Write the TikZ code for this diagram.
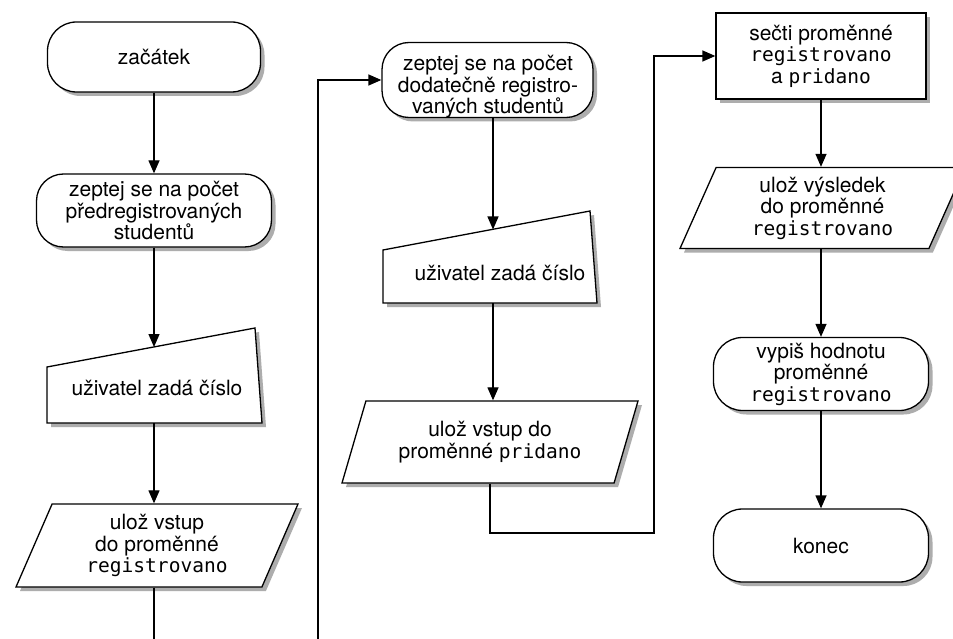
\documentclass[tikz,border=0pt]{standalone}
\usepackage{fontspec}
\setmainfont{TeX Gyre Heros}
\newfontfamily\varfont[Scale=0.93]{DejaVu Sans Mono}
\usetikzlibrary{arrows.meta,shapes.geometric,calc}
\newcommand\var[1]{{\varfont #1}}

\begin{document}
\begin{tikzpicture}[x=1pt,y=-1pt,
  line width=1.3pt,
  font=\fontsize{21}{21.5}\selectfont,
  castshadow/.style={preaction={fill=black!32, draw=none,
      transform canvas={xshift=4pt, yshift=-4pt}}},
  box/.style={castshadow, draw, fill=white},
  term/.style={box, rectangle, rounded corners=29pt, inner sep=0pt, align=center},
  proc/.style={box, rectangle, inner sep=0pt, align=center},
  io/.style={box, trapezium, trapezium left angle=60, trapezium right angle=120,
    trapezium stretches body, inner sep=0pt, align=center},
  label/.style={inner sep=0pt, align=center},
  arr/.style={-{Triangle[length=13pt,width=11pt]}},
  wire/.style={line width=1.3pt}]
\useasboundingbox[fill=white] (0,0) rectangle (953,639);

% ---- first column ----
\node[term, minimum width=213pt, minimum height=70pt] (start) at (154,57) {začátek};
\node[term, rounded corners=27pt, minimum width=235pt, minimum height=73pt] (q1) at (154,210.5)
  {zeptej se na počet\\předregistrovaných\\studentů};
\path[box] (47,367) -- (255,328) -- (262,423) -- (47,423) -- cycle;
\node[label] (m1) at (157,388) {uživatel zadá číslo};
\coordinate (m1in) at (154,347);
\coordinate (m1out) at (154,423);
\node[io, minimum width=282pt, minimum height=83pt] (p1) at (157,545.5)
  {ulož vstup\\do proměnné\\\var{registrovano}};
\coordinate (c1) at (154,645);

\draw[arr] (start) -- (q1);
\draw[arr] (q1.south -| m1in) -- (m1in);
\draw[arr] (m1out) -- (m1out |- p1.north);
\draw[wire] (c1 |- p1.south) -- (c1);

% ---- second column ----
\coordinate (c2) at (318,645);
\node[term, rounded corners=27pt, minimum width=211pt, minimum height=75pt] (q2) at (487.5,80) {};
\node[label] (q2text) at (488,87)
  {zeptej se na počet\\dodatečně registro-\\vaných studentů};
\path[box] (383,250) -- (590,211) -- (597,303) -- (383,303) -- cycle;
\node[label] (m2) at (500,273) {uživatel zadá číslo};
\coordinate (m2in) at (493,229.5);
\coordinate (m2out) at (493,303);
\node[io, minimum width=296pt, minimum height=82pt] (p2) at (490,442)
  {ulož vstup do\\proměnné \var{pridano}};
\coordinate (k1) at (654,533);

\draw[arr] (c2) |- (q2.west);
\draw[arr] (q2.south -| m2in) -- (m2in);
\draw[arr] (m2out) -- (m2out |- p2.north);

% ---- third column ----
\node[proc, minimum width=210pt, minimum height=86pt] (sum) at (821,56)
  {sečti proměnné\\\var{registrovano}\\a \var{pridano}};
\node[io, minimum width=285pt, minimum height=81pt] (p3) at (822.5,208)
  {ulož výsledek\\do proměnné\\\var{registrovano}};
\node[term, minimum width=215pt, minimum height=73pt] (show) at (821,374)
  {vypiš hodnotu\\proměnné\\\var{registrovano}};
\node[term, minimum width=215pt, minimum height=73pt] (stop) at (821,545.5) {konec};

\draw[arr] (p2.south) |- (k1) |- (sum.west);
\draw[arr] (sum.south) -- (sum.south |- p3.north);
\draw[arr] (sum.south |- p3.south) -- (show.north);
\draw[arr] (show) -- (stop);
\end{tikzpicture}
\end{document}
